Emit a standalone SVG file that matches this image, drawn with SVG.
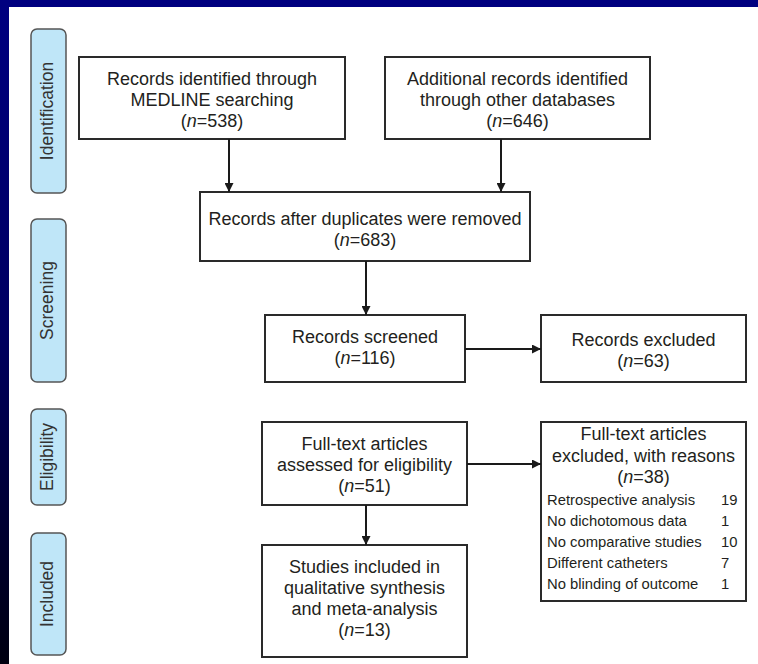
<svg xmlns="http://www.w3.org/2000/svg" width="758" height="664" viewBox="0 0 758 664">
<defs>
<linearGradient id="bg" x1="0" y1="0" x2="0" y2="1">
<stop offset="0" stop-color="#000080"/>
<stop offset="0.5" stop-color="#000060"/>
<stop offset="1" stop-color="#000010"/>
</linearGradient>
<marker id="ah" viewBox="0 0 10 10" refX="10" refY="5" markerWidth="9" markerHeight="9" markerUnits="userSpaceOnUse" orient="auto">
<path d="M0,0 L10,5 L0,10 Z" fill="#1a1a1a"/>
</marker>
<style>
.box{fill:#fff;stroke:#2a2a2a;stroke-width:2}
.side{fill:#bfe6f8;stroke:#555;stroke-width:1.5}
.t{font-family:"Liberation Sans",Arial,sans-serif;font-size:18px;fill:#231f20;text-anchor:middle}
.s{font-family:"Liberation Sans",Arial,sans-serif;font-size:17.5px;fill:#333;text-anchor:middle}
.l{font-family:"Liberation Sans",Arial,sans-serif;font-size:14.8px;fill:#231f20}
.c{stroke:#1a1a1a;stroke-width:2;fill:none;marker-end:url(#ah)}
</style>
</defs>
<rect x="0" y="0" width="758" height="664" fill="url(#bg)"/>
<rect x="9" y="7" width="749" height="657" fill="#fff"/>

<g id="phase-identification">
<rect class="side" x="31" y="29" width="35" height="164" rx="6"/>
<text class="s" transform="translate(53,111) rotate(-90)">Identification</text>
</g>
<g id="phase-screening">
<rect class="side" x="31" y="219" width="35" height="163" rx="6"/>
<text class="s" transform="translate(53,300.5) rotate(-90)">Screening</text>
</g>
<g id="phase-eligibility">
<rect class="side" x="31" y="409" width="35" height="96" rx="6"/>
<text class="s" transform="translate(53,457) rotate(-90)">Eligibility</text>
</g>
<g id="phase-included">
<rect class="side" x="31" y="533" width="35" height="122" rx="6"/>
<text class="s" transform="translate(53,594) rotate(-90)">Included</text>
</g>

<g id="medline">
<rect class="box" x="79" y="57" width="266" height="82"/>
<text class="t" x="212" y="85">Records identified through</text>
<text class="t" x="212" y="106">MEDLINE searching</text>
<text class="t" x="212" y="127">(<tspan font-style="italic">n</tspan>=538)</text>
</g>
<g id="other-db">
<rect class="box" x="385" y="57" width="265" height="82"/>
<text class="t" x="517.5" y="85">Additional records identified</text>
<text class="t" x="517.5" y="106">through other databases</text>
<text class="t" x="517.5" y="127">(<tspan font-style="italic">n</tspan>=646)</text>
</g>
<g id="dedup">
<rect class="box" x="200" y="192" width="330" height="69"/>
<text class="t" x="365" y="225">Records after duplicates were removed</text>
<text class="t" x="365" y="246">(<tspan font-style="italic">n</tspan>=683)</text>
</g>
<g id="screened">
<rect class="box" x="265" y="315" width="200" height="67"/>
<text class="t" x="365" y="343">Records screened</text>
<text class="t" x="365" y="364">(<tspan font-style="italic">n</tspan>=116)</text>
</g>
<g id="excluded">
<rect class="box" x="541" y="315" width="205" height="67"/>
<text class="t" x="643.5" y="346">Records excluded</text>
<text class="t" x="643.5" y="367">(<tspan font-style="italic">n</tspan>=63)</text>
</g>
<g id="fulltext">
<rect class="box" x="262" y="422" width="205" height="83"/>
<text class="t" x="364.5" y="450">Full-text articles</text>
<text class="t" x="364.5" y="471">assessed for eligibility</text>
<text class="t" x="364.5" y="492">(<tspan font-style="italic">n</tspan>=51)</text>
</g>
<g id="included">
<rect class="box" x="262" y="545" width="205" height="112"/>
<text class="t" x="364.5" y="573">Studies included in</text>
<text class="t" x="364.5" y="594">qualitative synthesis</text>
<text class="t" x="364.5" y="615">and meta-analysis</text>
<text class="t" x="364.5" y="636">(<tspan font-style="italic">n</tspan>=13)</text>
</g>
<g id="fulltext-excluded">
<rect class="box" x="541" y="422" width="205" height="179"/>
<text class="t" x="643.5" y="440">Full-text articles</text>
<text class="t" x="643.5" y="462">excluded, with reasons</text>
<text class="t" x="643.5" y="483">(<tspan font-style="italic">n</tspan>=38)</text>
<text class="l" x="547" y="505">Retrospective analysis</text><text class="l" x="721" y="505">19</text>
<text class="l" x="547" y="526">No dichotomous data</text><text class="l" x="721" y="526">1</text>
<text class="l" x="547" y="547">No comparative studies</text><text class="l" x="721" y="547">10</text>
<text class="l" x="547" y="568">Different catheters</text><text class="l" x="721" y="568">7</text>
<text class="l" x="547" y="589">No blinding of outcome</text><text class="l" x="721" y="589">1</text>
</g>

<g id="connectors">
<line class="c" x1="229" y1="139" x2="229" y2="192"/>
<line class="c" x1="501" y1="139" x2="501" y2="192"/>
<line class="c" x1="366" y1="261" x2="366" y2="315"/>
<line class="c" x1="465" y1="349" x2="541" y2="349"/>
<line class="c" x1="366" y1="505" x2="366" y2="545"/>
<line class="c" x1="467" y1="464" x2="541" y2="464"/>
</g>
</svg>
